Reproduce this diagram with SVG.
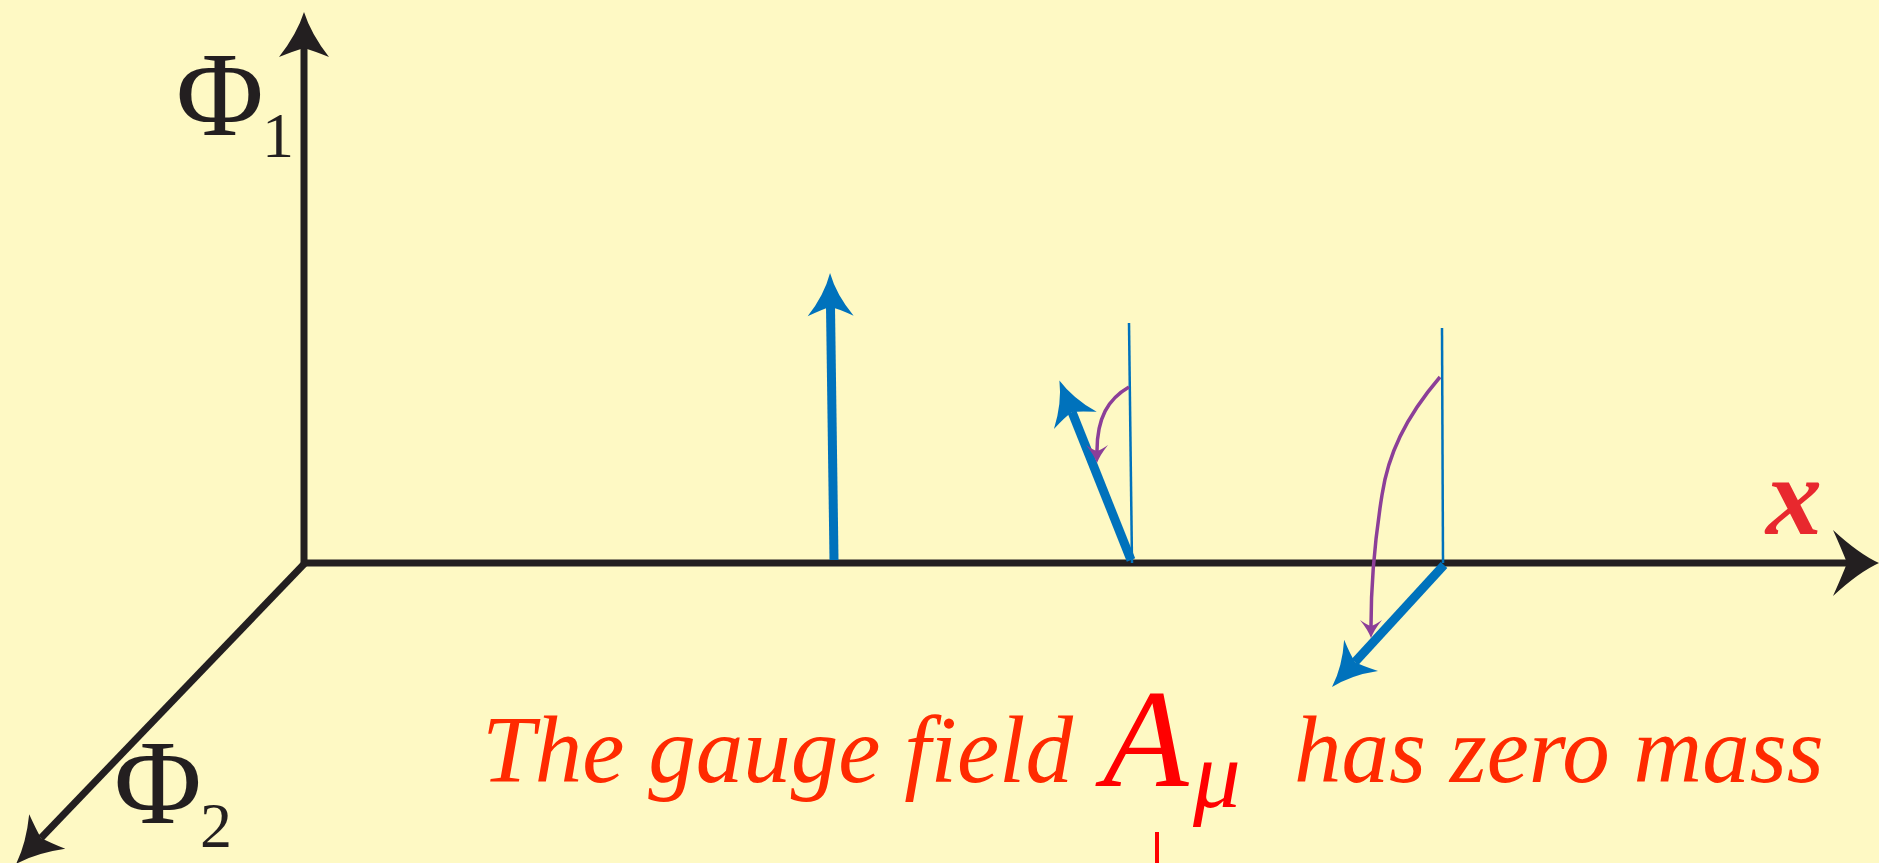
<svg xmlns="http://www.w3.org/2000/svg" width="1879" height="863" viewBox="0 0 1879 863">
<style>
.axis{stroke:#231f20;stroke-width:7;fill:none}
.vec{stroke:#0072bc;stroke-width:9;fill:none}
.thin{stroke:#0072bc;stroke-width:2.5;fill:none}
.rot{stroke:#8c3f98;stroke-width:3.5;fill:none}
.phi{font-family:"Liberation Serif","Times New Roman",serif;fill:#231f20;font-size:120px}
.sub{font-family:"Liberation Serif","Times New Roman",serif;fill:#231f20;font-size:64px}
.cap{font-family:"Liberation Serif","Times New Roman",serif;font-style:italic;fill:#ff2a00;font-size:95px}
.am{fill:#ff0000}
.xl{font-family:"Liberation Serif","Times New Roman",serif;font-style:italic;font-weight:bold;fill:#e8282e;font-size:112px}
</style>
<defs>
<marker id="headX" markerUnits="userSpaceOnUse" orient="auto" overflow="visible" markerWidth="80" markerHeight="80" refX="0" refY="0">
<path d="M32,0 Q12,-9 -14,-33 Q-5,-13 0,0 Q-5,13 -14,33 Q12,9 32,0Z" fill="#231f20"/>
</marker>
<marker id="headPhi" markerUnits="userSpaceOnUse" orient="auto" overflow="visible" markerWidth="80" markerHeight="80" refX="0" refY="0">
<path d="M36,0 Q14,-7 -9,-25 Q-3,-10 0,0 Q-3,10 -9,25 Q14,7 36,0Z" fill="#231f20"/>
</marker>
<marker id="headBlue" markerUnits="userSpaceOnUse" orient="auto" overflow="visible" markerWidth="80" markerHeight="80" refX="0" refY="0">
<path d="M34,0 Q12,-6 -9,-23 Q-2,-8 0,0 Q-2,8 -9,23 Q12,6 34,0Z" fill="#0072bc"/>
</marker>
<marker id="headPurple" markerUnits="userSpaceOnUse" orient="auto" overflow="visible" markerWidth="40" markerHeight="40" refX="0" refY="0">
<path d="M12,0 Q4,-3 -6,-11 Q-1,-4 0,0 Q-1,4 -6,11 Q4,3 12,0Z" fill="#8c3f98"/>
</marker>
</defs>
<rect width="1879" height="863" fill="#fef9c4"/>
<g id="axes">
<path class="axis" d="M304,563 L304,48" marker-end="url(#headPhi)"/>
<path class="axis" d="M301,563 L1847,563" marker-end="url(#headX)"/>
<path class="axis" d="M306,562 L41,838" marker-end="url(#headPhi)"/>
</g>
<g id="label-phi1">
<text class="phi" x="176" y="135">Φ</text>
<text class="sub" x="262" y="157">1</text>
</g>
<g id="label-phi2">
<text class="phi" x="114" y="823">Φ</text>
<text class="sub" x="200" y="847">2</text>
</g>
<g id="label-x">
<text class="xl" x="1766" y="534">x</text>
</g>
<g id="connectors">
<path class="thin" d="M1129,323 L1132,563"/>
<path class="thin" d="M1442,328 L1443,563"/>
<path class="vec" d="M834,560 L830.5,307" marker-end="url(#headBlue)"/>
<path class="vec" d="M1131,560 L1072,412" marker-end="url(#headBlue)"/>
<path class="vec" d="M1444,565 L1355,662" marker-end="url(#headBlue)"/>
<path class="rot" d="M1129,387 C1108,399 1097,418 1097,451" marker-end="url(#headPurple)"/>
<path class="rot" d="M1440,377 C1405,418 1388,455 1382,495 C1374,545 1371,585 1371,626" marker-end="url(#headPurple)"/>
</g>
<g id="caption">
<text class="cap" y="782"><tspan x="482">The gauge field</tspan><tspan class="am" x="1103" y="786" font-size="140">A</tspan><tspan class="am" x="1193" y="807">μ</tspan><tspan x="1294" y="782">has zero mass</tspan></text>
<line x1="1157" y1="832" x2="1157" y2="863" stroke="#ff0000" stroke-width="4"/>
</g>
</svg>
